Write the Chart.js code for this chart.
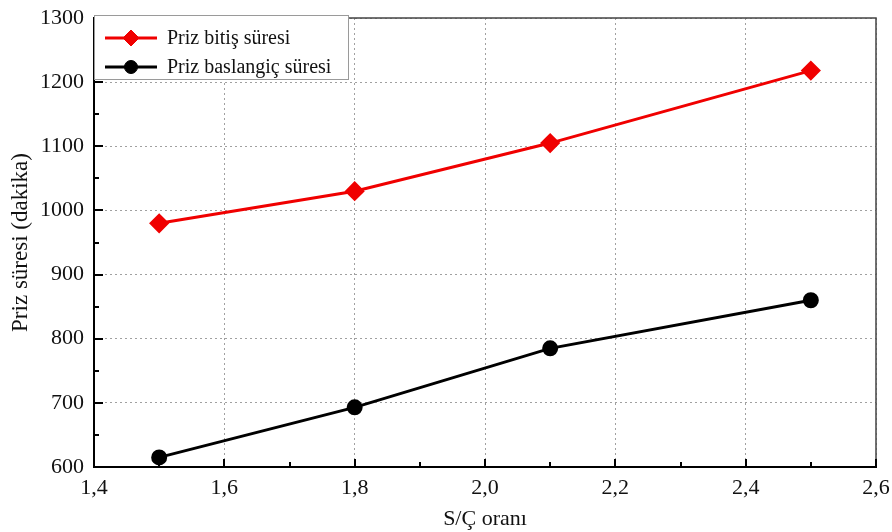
<!DOCTYPE html>
<html>
<head>
<meta charset="utf-8">
<title>Priz süresi</title>
<script src="https://cdn.jsdelivr.net/npm/chart.js@4/dist/chart.umd.min.js"></script>
<style>
    html, body { margin: 0; padding: 0; background: #fff; }
    #wrap { width: 892px; height: 532px; position: relative; }
</style>
</head>
<body>
<div id="wrap"><canvas id="prizChart"></canvas></div>
<script>
// S/Ç oranına göre priz başlangıç / bitiş süreleri
const ratios = [1.5, 1.8, 2.1, 2.5];
const bitisSuresi = [980, 1030, 1105, 1218];
const baslangicSuresi = [615, 693, 785, 860];
const xTicks = [1.4, 1.6, 1.8, 2.0, 2.2, 2.4, 2.6];
const yTicks = [600, 700, 800, 900, 1000, 1100, 1200, 1300];

const FONT = "'Liberation Serif', 'Times New Roman', serif";

const toPoints = (ys) => ratios.map((x, i) => ({ x, y: ys[i] }));
const fmt = (v) => Number(v).toFixed(1).replace('.', ',');

// İçe doğru ana/ara tik çizgileri, üst-sağ çerçeve ve lejant kutusu
const frameAndLegend = {
    id: 'frameAndLegend',
    afterDatasetsDraw(chart) {
        const { ctx, chartArea: a, scales } = chart;
        const xs = scales.x, ys = scales.y;
        ctx.save();

        // üst ve sağ çerçeve
        ctx.strokeStyle = '#444';
        ctx.lineWidth = 1.5;
        ctx.beginPath();
        ctx.moveTo(a.left, a.top);
        ctx.lineTo(a.right, a.top);
        ctx.lineTo(a.right, a.bottom);
        ctx.stroke();

        // tikler
        ctx.strokeStyle = '#000';
        ctx.lineWidth = 2;
        ctx.beginPath();
        for (let v = 1.4; v <= 2.6001; v += 0.1) {
            const major = Math.round(v * 10) % 2 === 0;
            const px = Math.round(xs.getPixelForValue(v));
            ctx.moveTo(px, a.bottom);
            ctx.lineTo(px, a.bottom - (major ? 8 : 5));
        }
        for (let v = 600; v <= 1300; v += 50) {
            const major = v % 100 === 0;
            const py = Math.round(ys.getPixelForValue(v));
            ctx.moveTo(a.left, py);
            ctx.lineTo(a.left + (major ? 9 : 5), py);
        }
        ctx.stroke();

        // lejant
        const bx = 94, by = 15, bw = 254, bh = 64;
        ctx.fillStyle = '#fff';
        ctx.fillRect(bx, by, bw, bh);
        ctx.strokeStyle = '#9a9a9a';
        ctx.lineWidth = 1;
        ctx.strokeRect(bx + 0.5, by + 0.5, bw, bh);

        const rows = [38, 67];
        chart.data.datasets.forEach((ds, i) => {
            const y = rows[i];
            ctx.strokeStyle = ds.borderColor;
            ctx.lineWidth = 3;
            ctx.beginPath();
            ctx.moveTo(105, y);
            ctx.lineTo(157, y);
            ctx.stroke();
            ctx.fillStyle = ds.pointBackgroundColor;
            ctx.lineWidth = 1;
            Chart.helpers.drawPoint(ctx, {
                pointStyle: ds.pointStyle,
                radius: ds.pointRadius,
                borderWidth: 1
            }, 131, y);
            ctx.fillStyle = '#111';
            ctx.font = '20px ' + FONT;
            ctx.textBaseline = 'middle';
            ctx.fillText(ds.label, 167, y + 1);
        });
        ctx.restore();
    }
};

new Chart(document.getElementById('prizChart'), {
    type: 'line',
    data: {
        datasets: [
            {
                label: 'Priz bitiş süresi',
                data: toPoints(bitisSuresi),
                borderColor: '#f00000',
                backgroundColor: '#f00000',
                borderWidth: 3,
                pointStyle: 'rectRot',
                pointRadius: 8,
                pointBackgroundColor: '#f00000',
                pointBorderColor: '#f00000',
                tension: 0
            },
            {
                label: 'Priz baslangiç süresi',
                data: toPoints(baslangicSuresi),
                borderColor: '#000',
                backgroundColor: '#000',
                borderWidth: 3,
                pointStyle: 'circle',
                pointRadius: 6.5,
                pointBackgroundColor: '#000',
                pointBorderColor: '#000',
                tension: 0
            }
        ]
    },
    options: {
        responsive: true,
        maintainAspectRatio: false,
        animation: false,
        layout: { padding: { top: 18, right: 16, left: 7, bottom: 0 } },
        plugins: {
            legend: { display: false },
            tooltip: { enabled: false }
        },
        scales: {
            x: {
                type: 'linear',
                min: 1.4,
                max: 2.6,
                afterBuildTicks: (s) => { s.ticks = xTicks.map(v => ({ value: v })); },
                afterFit: (s) => {
                    s.height = 65;
                    s.paddingLeft = 0;
                    s.paddingRight = 0;
                },
                ticks: {
                    color: '#111',
                    padding: 8,
                    font: { family: FONT, size: 22 },
                    callback: (v) => fmt(v)
                },
                grid: {
                    color: '#a0a0a0',
                    lineWidth: 1,
                    drawTicks: false
                },
                border: { display: true, color: '#000', width: 2, dash: [2, 3] },
                title: {
                    display: true,
                    text: 'S/Ç oranı',
                    color: '#111',
                    font: { family: FONT, size: 22 },
                    padding: { top: 4, bottom: 0 }
                }
            },
            y: {
                min: 600,
                max: 1300,
                afterBuildTicks: (s) => { s.ticks = yTicks.map(v => ({ value: v })); },
                afterFit: (s) => {
                    s.width = 87;
                    s.paddingTop = 0;
                    s.paddingBottom = 0;
                },
                ticks: {
                    color: '#111',
                    padding: 10,
                    font: { family: FONT, size: 22 },
                    callback: (v) => String(v)
                },
                grid: {
                    color: '#a0a0a0',
                    lineWidth: 1,
                    drawTicks: false
                },
                border: { display: true, color: '#000', width: 2, dash: [2, 3] },
                title: {
                    display: true,
                    text: 'Priz süresi (dakika)',
                    color: '#111',
                    font: { family: FONT, size: 23 },
                    padding: { top: 0, bottom: 6 }
                }
            }
        }
    },
    plugins: [frameAndLegend]
});
</script>
</body>
</html>
